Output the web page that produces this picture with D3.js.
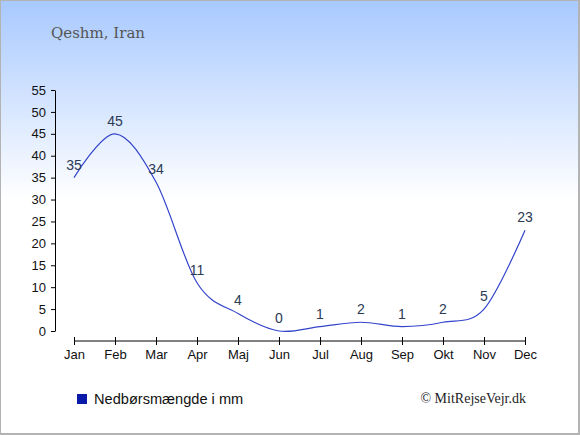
<!DOCTYPE html>
<html>
<head>
    <meta charset="utf-8" />
    <title>Qeshm, Iran - nedbør</title>
    <style>
        body { margin: 0; }
        text.tick { font-family: Arial, "Liberation Sans", sans-serif; font-size: 13px; fill: #111; }
        text.val { font-family: Arial, "Liberation Sans", sans-serif; font-size: 14px; fill: #2b3a55; }
        .axis path, .axis line { stroke: #000; }
    </style>
    <script src="https://d3js.org/d3.v7.min.js"></script>
</head>
<body>
<script>

// data
let months = ["Jan", "Feb", "Mar", "Apr", "Maj", "Jun", "Jul", "Aug", "Sep", "Okt", "Nov", "Dec"];
let rain = [35, 45, 34, 11, 4, 0, 1, 2, 1, 2, 5, 23];
let yTicks = [0, 5, 10, 15, 20, 25, 30, 35, 40, 45, 50, 55];

let W = 580, H = 435;

let svg = d3.select("body")
    .append("svg")
    .attr("width", W)
    .attr("height", H);

// background gradient
let grad = svg.append("defs").append("linearGradient")
    .attr("id", "bg")
    .attr("x1", 0).attr("y1", 0).attr("x2", 0).attr("y2", 1);
grad.append("stop").attr("offset", "0%").attr("stop-color", "#a8c9ff");
grad.append("stop").attr("offset", "46%").attr("stop-color", "#ffffff");
grad.append("stop").attr("offset", "100%").attr("stop-color", "#ffffff");

svg.append("rect")
    .attr("x", 0.5).attr("y", 0.5)
    .attr("width", W - 2).attr("height", H - 2)
    .attr("fill", "url(#bg)")
    .attr("stroke", "#b3b3b3")
    .attr("stroke-width", 1);
svg.append("line").attr("x1", W - 1).attr("x2", W - 1).attr("y1", 0).attr("y2", H)
    .attr("stroke", "#b3b3b3").attr("stroke-width", 2);
svg.append("line").attr("x1", 0).attr("x2", W).attr("y1", H - 1).attr("y2", H - 1)
    .attr("stroke", "#b3b3b3").attr("stroke-width", 2);

// title
svg.append("text")
    .attr("x", 51).attr("y", 38)
    .attr("font-family", "Georgia, 'DejaVu Serif', 'Liberation Serif', serif")
    .attr("font-size", 15)
    .attr("fill", "#555")
    .text("Qeshm, Iran");

// scales
let xScale = d3.scalePoint()
    .domain(months)
    .range([74, 525]);

let yScale = d3.scaleLinear()
    .domain([0, 55])
    .range([331, 90]);

// Y axis
let yAxis = svg.append("g")
    .attr("class", "axis")
    .attr("transform", "translate(55,0)")
    .call(d3.axisLeft(yScale).tickValues(yTicks).tickSize(4).tickSizeOuter(0));
yAxis.selectAll("text")
    .attr("class", "tick")
    .attr("font-family", null).attr("font-size", null)
    .attr("dx", "-2");

// X axis
let xAxis = svg.append("g")
    .attr("class", "axis")
    .attr("transform", "translate(0,341)")
    .call(d3.axisBottom(xScale).tickSize(4).tickSizeOuter(0).tickPadding(5));
xAxis.select(".domain").attr("d", "M74,0H525");
xAxis.selectAll(".tick line").attr("y1", -4).attr("y2", 4);
xAxis.selectAll("text")
    .attr("class", "tick")
    .attr("font-family", null).attr("font-size", null);

// line
let line = d3.line()
    .x((d, i) => xScale(months[i]))
    .y(d => yScale(d))
    .curve(d3.curveCatmullRom.alpha(0));

svg.append("path")
    .datum(rain)
    .attr("fill", "none")
    .attr("stroke", "#3344cc")
    .attr("stroke-width", 1.2)
    .attr("d", line);

// value labels
svg.selectAll("text.val")
    .data(rain)
    .enter()
    .append("text")
    .attr("class", "val")
    .attr("text-anchor", "middle")
    .attr("x", (d, i) => xScale(months[i]))
    .attr("y", d => yScale(d) - 8)
    .text(d => d);

// legend
svg.append("rect")
    .attr("x", 77).attr("y", 394)
    .attr("width", 10).attr("height", 10)
    .attr("fill", "#0a1aa8");
svg.append("text")
    .attr("x", 94).attr("y", 404)
    .attr("font-family", "Arial, 'Liberation Sans', sans-serif")
    .attr("font-size", 14.6)
    .attr("fill", "#111")
    .text("Nedbørsmængde i mm");

svg.append("text")
    .attr("x", 526).attr("y", 403)
    .attr("text-anchor", "end")
    .attr("font-family", "'Liberation Serif', 'Times New Roman', serif")
    .attr("font-size", 14)
    .attr("fill", "#222")
    .text("© MitRejseVejr.dk");

</script>
</body>
</html>
